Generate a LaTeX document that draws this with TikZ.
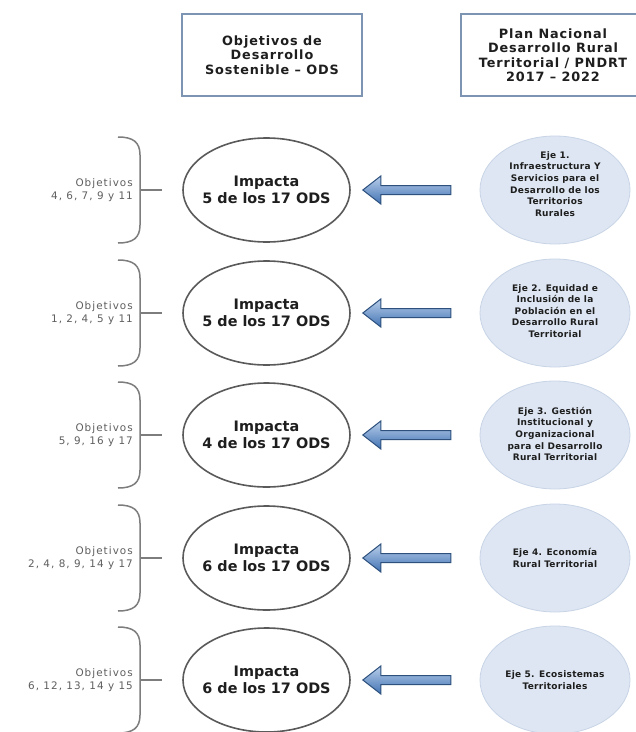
\documentclass[tikz,border=0pt]{standalone}
\usepackage{fontspec}
\setmainfont{DejaVu Sans}
\newfontfamily\hdrf[LetterSpace=7]{DejaVu Sans}
\newfontfamily\lblf[LetterSpace=10]{DejaVu Sans}
\newfontfamily\ejef[LetterSpace=3]{DejaVu Sans}
\usetikzlibrary{shapes.geometric,calc}
\definecolor{boxline}{RGB}{125,148,178}
\definecolor{ejefill}{RGB}{221,230,242}
\definecolor{ejeline}{RGB}{200,212,230}
\definecolor{arrfill}{RGB}{65,115,180}
\definecolor{arrline}{RGB}{45,80,125}
\definecolor{arrlight}{RGB}{185,206,234}
\definecolor{lbltext}{RGB}{95,95,95}
\definecolor{txt}{RGB}{30,30,30}
\definecolor{ellline}{RGB}{90,90,90}
\definecolor{braceline}{RGB}{125,125,125}
\newcommand{\fila}[6]{%
  \node[impact] (w#1) at (266.5,#2) {};
  \node[impacttext] (wt#1) at (w#1.center) {Impacta\\#4 de los 17 ODS};
  \node[eje] (e#1) at (555,#2) {};
  \node[ejetext] (et#1) at ($(e#1.center)+(0,#6)$) {#5};
  \node[lbl] (l#1) at (133,#2) {Objetivos\\#3};
  \draw[brace] (118,#2-53) .. controls (133,#2-53) and (140,#2-48) .. (140,#2-35)
     -- (140,#2+35) .. controls (140,#2+48) and (133,#2+53) .. (118,#2+53);
  \coordinate (bt#1) at (140,#2);
  \coordinate (be#1) at (162,#2);
  \draw[brace] (bt#1) -- (be#1);
  \coordinate (tip#1) at ($(w#1.east)+(12,0)$);
  \path[blockarrow] (tip#1) -- ++(18,-14) -- ++(0,9.5) -- ++(70,0) -- ++(0,9)
     -- ++(-70,0) -- ++(0,9.5) -- cycle;
}
\begin{document}
\begin{tikzpicture}[x=1bp,y=-1bp,
  hdrbox/.style={draw=boxline,line width=1.6bp,fill=white,minimum height=82bp,
     inner sep=0pt,align=center,text=txt,
     font=\hdrf\bfseries\fontsize{12.8bp}{14.5bp}\selectfont},
  impact/.style={ellipse,draw=ellline,line width=1.6bp,fill=white,
     minimum width=167bp,minimum height=104bp,inner sep=0pt},
  impacttext/.style={align=center,text=txt,inner sep=0pt,
     font=\bfseries\fontsize{14.4bp}{17bp}\selectfont},
  eje/.style={ellipse,draw=ejeline,line width=0.8bp,fill=ejefill,
     minimum width=150bp,minimum height=108bp,inner sep=0pt},
  ejetext/.style={align=center,text=txt,inner sep=0pt,
     font=\ejef\bfseries\fontsize{9bp}{11.6bp}\selectfont},
  lbl/.style={anchor=east,align=right,text=lbltext,inner sep=0pt,
     font=\lblf\fontsize{10.4bp}{13bp}\selectfont},
  brace/.style={draw=braceline,line width=1.5bp},
  blockarrow/.style={top color=arrlight,bottom color=arrfill,draw=arrline,
     line width=1bp,line join=miter}
]
\clip (0,0) rectangle (636,732);
\fill[white] (0,0) rectangle (636,732);

\node[hdrbox,minimum width=180bp] (h1) at (272,55)
  {Objetivos de\\Desarrollo\\Sostenible – ODS};
\node[hdrbox,minimum width=184bp] (h2) at (553,55)
  {Plan Nacional\\Desarrollo Rural\\Territorial / PNDRT\\2017 – 2022};

\fila{1}{190}{4, 6, 7, 9 y 11}{5}{Eje 1.\\Infraestructura Y\\Servicios para el\\Desarrollo de los\\Territorios\\Rurales}{-6}
\fila{2}{313}{1, 2, 4, 5 y 11}{5}{Eje 2. Equidad e\\Inclusión de la\\Población en el\\Desarrollo Rural\\Territorial}{-2}
\fila{3}{435}{5, 9, 16 y 17}{4}{Eje 3. Gestión\\Institucional y\\Organizacional\\para el Desarrollo\\Rural Territorial}{-1}
\fila{4}{558}{2, 4, 8, 9, 14 y 17}{6}{Eje 4. Economía\\Rural Territorial}{0}
\fila{5}{680}{6, 12, 13, 14 y 15}{6}{Eje 5. Ecosistemas\\Territoriales}{0}
\end{tikzpicture}
\end{document}
